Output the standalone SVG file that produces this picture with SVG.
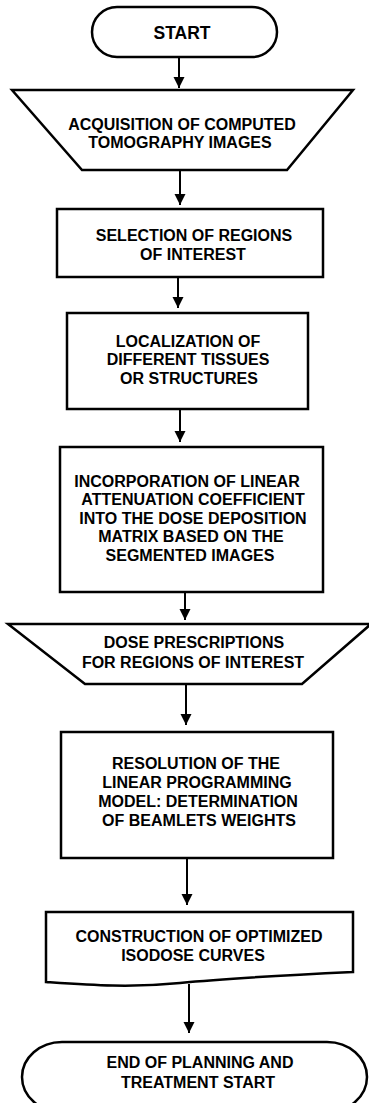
<svg xmlns="http://www.w3.org/2000/svg" width="369" height="1103" viewBox="0 0 369 1103">
<style>
.s{fill:#fff;stroke:#000;stroke-width:2.5;stroke-linejoin:miter}
.t{font-family:"Liberation Sans",Arial,sans-serif;font-weight:bold;font-size:16px;text-anchor:middle;fill:#000}
.c{stroke:#000;stroke-width:2;fill:none}
</style>
<defs>
<marker id="ah" markerUnits="userSpaceOnUse" markerWidth="12" markerHeight="12" viewBox="0 0 12 12" refX="11" refY="6" orient="auto">
<path d="M0,0.5 L11,6 L0,11.5 Z" fill="#000"/>
</marker>
</defs>
<rect width="369" height="1103" fill="#fff"/>
<g id="connectors">
<line class="c" x1="179" y1="57" x2="179" y2="88" marker-end="url(#ah)"/>
<line class="c" x1="180" y1="170" x2="180" y2="205" marker-end="url(#ah)"/>
<line class="c" x1="178" y1="277" x2="178" y2="308" marker-end="url(#ah)"/>
<line class="c" x1="180" y1="409" x2="180" y2="442" marker-end="url(#ah)"/>
<line class="c" x1="185" y1="592" x2="185" y2="620" marker-end="url(#ah)"/>
<line class="c" x1="186" y1="684" x2="186" y2="725" marker-end="url(#ah)"/>
<line class="c" x1="187" y1="858" x2="187" y2="905" marker-end="url(#ah)"/>
<line class="c" x1="189" y1="984" x2="189" y2="1033" marker-end="url(#ah)"/>
</g>
<g id="start">
<rect class="s" x="92" y="7" width="185" height="50" rx="25" ry="25" stroke-width="2"/>
<text class="t" x="182" y="39" style="font-size:17.5px">START</text>
</g>
<g id="acquisition">
<path class="s" d="M12,90 H353 L287,170 H82 Z"/>
<text class="t" x="182" y="130">ACQUISITION OF COMPUTED</text>
<text class="t" x="180" y="148">TOMOGRAPHY IMAGES</text>
</g>
<g id="selection">
<rect class="s" x="57" y="209" width="266" height="68"/>
<text class="t" x="194" y="241">SELECTION OF REGIONS</text>
<text class="t" x="193" y="260">OF INTEREST</text>
</g>
<g id="localization">
<rect class="s" x="67" y="313" width="241" height="96"/>
<text class="t" x="188" y="347">LOCALIZATION OF</text>
<text class="t" x="188" y="365">DIFFERENT TISSUES</text>
<text class="t" x="189" y="384">OR STRUCTURES</text>
</g>
<g id="incorporation">
<rect class="s" x="60" y="447" width="263" height="145" stroke-width="3"/>
<text class="t" x="187" y="487">INCORPORATION OF LINEAR</text>
<text class="t" x="193" y="505">ATTENUATION COEFFICIENT</text>
<text class="t" x="193" y="524">INTO THE DOSE DEPOSITION</text>
<text class="t" x="191" y="542">MATRIX BASED ON THE</text>
<text class="t" x="190" y="561">SEGMENTED IMAGES</text>
</g>
<g id="dose">
<path class="s" d="M8,624 H371 L302,684 H85 Z"/>
<text class="t" x="194" y="648">DOSE PRESCRIPTIONS</text>
<text class="t" x="193" y="668">FOR REGIONS OF INTEREST</text>
</g>
<g id="resolution">
<rect class="s" x="61" y="732" width="272" height="126"/>
<text class="t" x="196" y="769">RESOLUTION OF THE</text>
<text class="t" x="197" y="788">LINEAR PROGRAMMING</text>
<text class="t" x="198" y="807">MODEL: DETERMINATION</text>
<text class="t" x="199" y="826">OF BEAMLETS WEIGHTS</text>
</g>
<g id="construction">
<path class="s" d="M46,912 H353 V972 C290,975 230,978 180,983 C130,988 90,985 46,982 Z"/>
<text class="t" x="199" y="942">CONSTRUCTION OF OPTIMIZED</text>
<text class="t" x="193" y="961">ISODOSE CURVES</text>
</g>
<g id="end">
<rect class="s" x="22" y="1042" width="345" height="70" rx="40" ry="35" stroke-width="3.5"/>
<text class="t" x="200" y="1068">END OF PLANNING AND</text>
<text class="t" x="198" y="1088">TREATMENT START</text>
</g>
</svg>
